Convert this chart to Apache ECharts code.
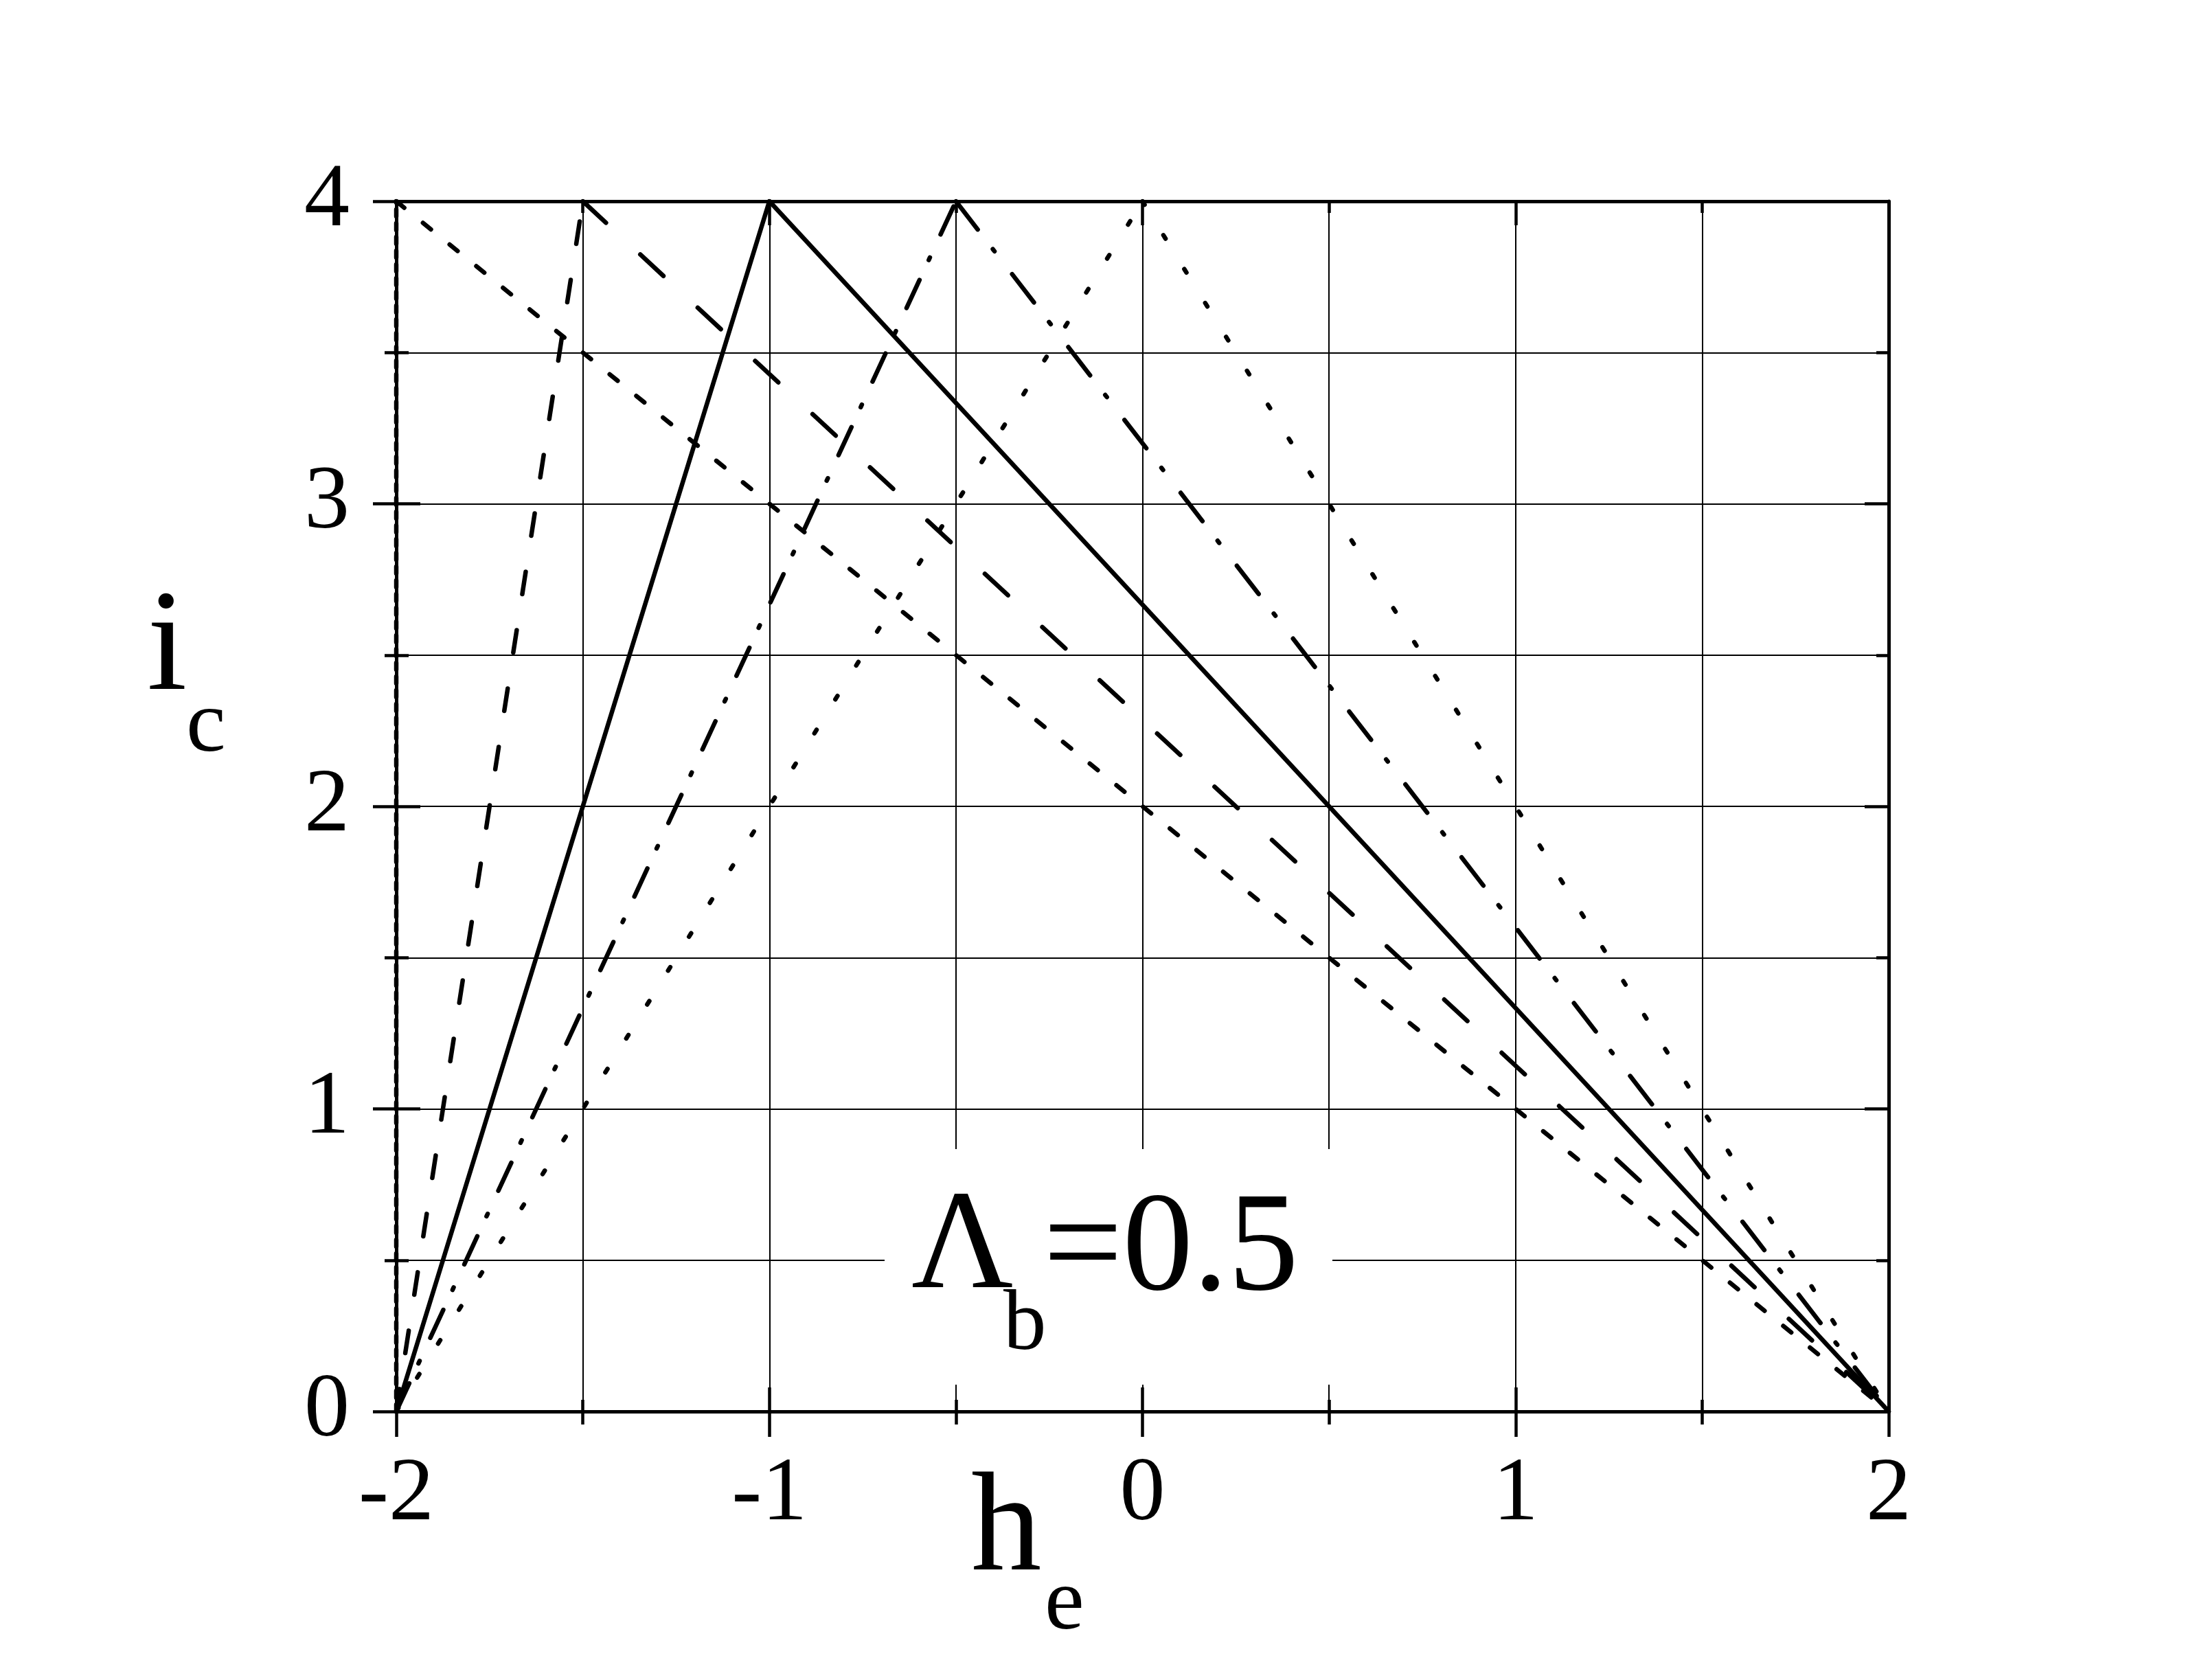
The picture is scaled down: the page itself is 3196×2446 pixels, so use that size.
<!DOCTYPE html>
<html>
<head>
<meta charset="utf-8">
<script src="https://cdn.jsdelivr.net/npm/echarts@6/dist/echarts.min.js"></script>
<style>
  html, body { margin: 0; padding: 0; background: #fff; }
  #chart { width: 3196px; height: 2446px; }
</style>
</head>
<body>
<div id="chart"></div>
<script>
// each curve: rises from (-2,0) to its peak, then falls to (2,0)
const startPoint = [-2, 0]
const endPoint = [2, 0]
const peakH = [-2, -1.5, -1, -0.5, 0] // h_e at the peak
const peakIc = [4, 4, 4, 4, 4] // i_c at the peak

// dash patterns (rise, fall) per curve
const riseDash = [[10, 10], [33, 53], 'solid', [45, 32, 4, 37], [6, 52]]
const fallDash = [[15, 35], [46, 68], 'solid', [52, 36, 4, 42], [6, 52]]

const FONT = '"Liberation Serif", "Times New Roman", serif'

function lineSeries(name, data, dash) {
  return {
    name,
    type: 'line',
    data,
    showSymbol: false,
    symbol: 'none',
    animation: false,
    z: 2,
    lineStyle: { color: '#000', width: 6.5, type: dash, cap: 'round', join: 'round' }
  }
}

const series = []
peakH.forEach((h, i) => {
  const peak = [h, peakIc[i]]
  series.push(lineSeries('rise' + i, [startPoint, peak], riseDash[i]))
  series.push(lineSeries('fall' + i, [peak, endPoint], fallDash[i]))
})

const tickLine = { color: '#000', width: 4.5 }

function xAxisCfg(position, inside, main) {
  return {
    type: 'value',
    position,
    min: -2,
    max: 2,
    interval: 1,
    axisLine: { show: true, onZero: false, lineStyle: { color: '#000', width: 5 } },
    axisTick: { show: true, inside, length: inside ? 35 : 37, lineStyle: tickLine },
    minorTick: { show: true, splitNumber: 2, length: inside ? 17 : 19, lineStyle: tickLine },
    axisLabel: {
      show: main,
      margin: 56,
      fontSize: 132,
      lineHeight: 132,
      fontFamily: FONT,
      color: '#000'
    },
    splitLine: { show: main, lineStyle: { color: '#000', width: 2 } },
    minorSplitLine: { show: main, lineStyle: { color: '#000', width: 2 } }
  }
}

function yAxisCfg(position, inside, main) {
  return {
    type: 'value',
    position,
    min: 0,
    max: 4,
    interval: 1,
    axisLine: { show: true, onZero: false, lineStyle: { color: '#000', width: 5 } },
    axisTick: { show: true, inside, length: inside ? 35 : 34, lineStyle: tickLine },
    minorTick: { show: true, splitNumber: 2, length: inside ? 18 : 17, lineStyle: tickLine },
    axisLabel: {
      show: main,
      margin: 68,
      fontSize: 132,
      lineHeight: 132,
      fontFamily: FONT,
      color: '#000'
    },
    splitLine: { show: main, lineStyle: { color: '#000', width: 2 } },
    minorSplitLine: { show: main, lineStyle: { color: '#000', width: 2 } }
  }
}

function label(text, x, y, size) {
  return {
    type: 'text',
    x,
    y,
    z: 3,
    style: {
      text,
      font: size + 'px ' + FONT,
      fill: '#000',
      align: 'left',
      textAlign: 'left',
      verticalAlign: 'middle',
      textVerticalAlign: 'middle'
    }
  }
}

const option = {
  backgroundColor: '#fff',
  animation: false,
  grid: { left: 577, right: 446, top: 293, bottom: 391 },
  xAxis: [
    xAxisCfg('bottom', false, true),
    xAxisCfg('bottom', true, false),
    xAxisCfg('top', true, false)
  ],
  yAxis: [
    yAxisCfg('left', false, true),
    yAxisCfg('left', true, false),
    yAxisCfg('right', true, false)
  ],
  series,
  graphic: [
    // white box behind the annotation
    { type: 'rect', z: 1, shape: { x: 1288, y: 1673, width: 652, height: 343 }, style: { fill: '#fff' } },
    label('\u039B', 1327, 1820, 205),
    label('b', 1461, 1931, 125),
    label('=0.5', 1519, 1823, 205),
    // axis titles
    label('i', 214, 948, 210),
    label('c', 271, 1059, 130),
    label('h', 1414, 2231, 205),
    label('e', 1521, 2337, 130)
  ]
}

const chart = echarts.init(document.getElementById('chart'))
chart.setOption(option)
</script>
</body>
</html>
